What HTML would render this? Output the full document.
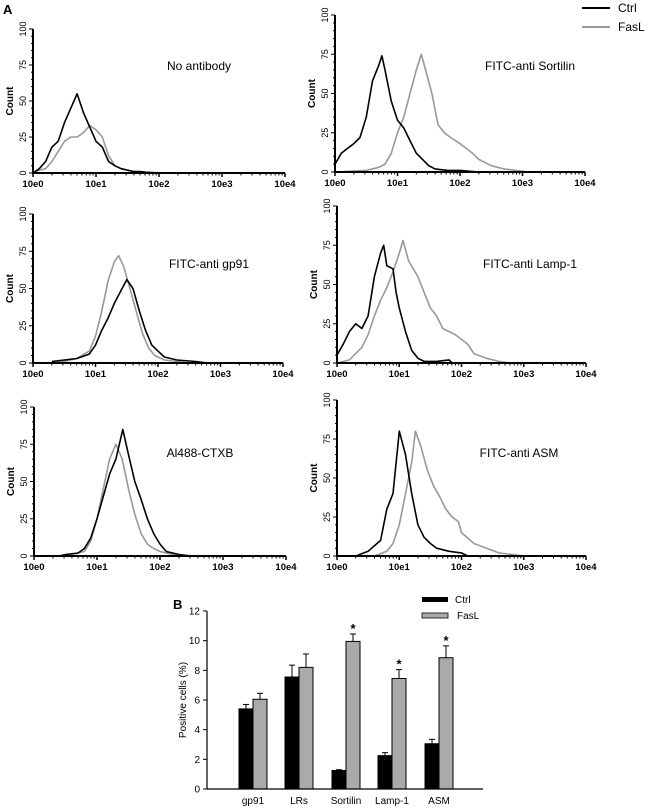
<!DOCTYPE html>
<html><head><meta charset="utf-8"><style>
html,body{margin:0;padding:0;background:#fff;}
svg{display:block;font-family:"Liberation Sans",Arial,sans-serif;}
</style></head><body>
<svg id="fig" width="654" height="809" viewBox="0 0 654 809">
<text x="3" y="14" font-size="13" font-weight="bold">A</text>
<text x="173" y="609" font-size="13" font-weight="bold">B</text>
<g>
<line x1="582" y1="8" x2="610" y2="8" stroke="#000" stroke-width="2"/>
<text x="618" y="12" font-size="12">Ctrl</text>
<line x1="582" y1="27" x2="610" y2="27" stroke="#999" stroke-width="2"/>
<text x="618" y="31" font-size="12">FasL</text>
</g>
</svg>
<script>
const NS="http://www.w3.org/2000/svg";
const svg=document.getElementById('fig');
function mk(tag,attrs,parent){const e=document.createElementNS(NS,tag);for(const k in attrs)e.setAttribute(k,attrs[k]);(parent||svg).appendChild(e);return e;}

// Histogram data: [log10 intensity, count]
const ctrlNoAb=[[0,0],[0.1,3],[0.2,8],[0.3,18],[0.4,22],[0.5,35],[0.6,45],[0.7,55],[0.8,42],[0.9,32],[1.0,22],[1.1,18],[1.2,8],[1.3,5],[1.4,3],[1.5,2],[1.6,1],[1.7,1],[1.8,0.5],[2.0,0]];
const fasNoAb=[[0,0],[0.1,2],[0.2,3],[0.3,8],[0.4,15],[0.5,22],[0.6,25],[0.7,25],[0.8,28],[0.9,33],[1.0,30],[1.1,25],[1.2,12],[1.3,5],[1.4,3],[1.5,2],[1.6,1],[1.8,0.5],[2.2,0]];
const ctrlSort=[[0,5],[0.1,12],[0.2,15],[0.3,18],[0.4,22],[0.5,35],[0.6,58],[0.7,68],[0.75,74],[0.8,65],[0.9,45],[1.0,33],[1.1,28],[1.2,20],[1.3,12],[1.4,8],[1.5,4],[1.6,2],[1.8,1],[2.0,1],[2.3,0]];
const fasSort=[[0,0],[0.5,1],[0.7,3],[0.8,5],[0.9,12],[1.0,25],[1.1,35],[1.2,50],[1.3,65],[1.38,75],[1.45,65],[1.55,50],[1.65,30],[1.75,25],[1.85,22],[2.0,18],[2.1,15],[2.2,12],[2.3,8],[2.5,4],[2.7,2],[2.9,1],[3.1,0]];
const ctrlGp=[[0.3,1],[0.5,2],[0.7,3],[0.9,6],[1.0,12],[1.1,22],[1.2,30],[1.3,40],[1.4,48],[1.5,56],[1.6,50],[1.7,35],[1.8,22],[1.9,12],[2.0,8],[2.1,4],[2.3,2],[2.6,1],[2.8,0]];
const fasGp=[[0.3,0],[0.5,1],[0.7,3],[0.9,8],[1.0,18],[1.1,35],[1.2,55],[1.3,68],[1.37,72],[1.45,65],[1.55,50],[1.65,35],[1.75,20],[1.85,10],[1.95,5],[2.1,2],[2.3,1],[2.5,0]];
const ctrlLamp=[[0,5],[0.1,12],[0.2,20],[0.3,25],[0.4,22],[0.5,30],[0.6,55],[0.7,70],[0.75,75],[0.8,62],[0.9,60],[0.95,45],[1.0,35],[1.1,20],[1.2,8],[1.3,3],[1.4,1],[1.6,1],[1.8,2],[1.85,0]];
const fasLamp=[[0,0],[0.2,2],[0.4,10],[0.5,18],[0.6,30],[0.7,40],[0.8,48],[0.9,58],[1.0,70],[1.06,78],[1.15,65],[1.3,55],[1.4,45],[1.5,35],[1.6,30],[1.7,22],[1.8,20],[1.9,18],[2.0,15],[2.1,12],[2.2,6],[2.4,3],[2.6,1],[2.8,0]];
const ctrlCtx=[[0.4,0],[0.5,1],[0.7,2],[0.8,5],[0.9,12],[1.0,25],[1.1,40],[1.2,55],[1.3,65],[1.41,85],[1.5,68],[1.6,50],[1.7,38],[1.8,25],[1.9,15],[2.0,8],[2.1,3],[2.3,1],[2.5,0]];
const fasCtx=[[0.5,0],[0.8,3],[0.9,10],[1.0,25],[1.1,45],[1.2,65],[1.3,75],[1.4,65],[1.5,45],[1.6,28],[1.7,15],[1.8,8],[1.9,5],[2.0,3],[2.2,1],[2.4,0]];
const ctrlAsm=[[0.3,0],[0.5,3],[0.7,10],[0.8,30],[0.9,40],[1.0,80],[1.1,65],[1.2,40],[1.3,20],[1.4,12],[1.5,8],[1.6,5],[1.8,3],[2.0,2],[2.1,0]];
const fasAsm=[[0.6,0],[0.8,3],[0.9,8],[1.0,20],[1.1,40],[1.2,60],[1.26,80],[1.35,70],[1.45,55],[1.55,45],[1.65,38],[1.75,30],[1.85,25],[1.95,22],[2.0,15],[2.2,8],[2.4,5],[2.6,2],[2.8,1],[3.0,0]];
const xTickLabels=["10e0","10e1","10e2","10e3","10e4"];
const yTickLabels=[0,25,50,75,100];

const panels=[
 {name:'no-antibody',title:'No antibody',x0:33,x1:285,yb:173,yt:29,tx:199,ty:70,ctrl:ctrlNoAb,fas:fasNoAb},
 {name:'sortilin',title:'FITC-anti Sortilin',x0:335,x1:585,yb:172,yt:15,tx:530,ty:70,ctrl:ctrlSort,fas:fasSort},
 {name:'gp91',title:'FITC-anti gp91',x0:33,x1:283,yb:363,yt:214,tx:209,ty:268,ctrl:ctrlGp,fas:fasGp},
 {name:'lamp1',title:'FITC-anti Lamp-1',x0:337,x1:586,yb:363,yt:206,tx:530,ty:268,ctrl:ctrlLamp,fas:fasLamp},
 {name:'ctxb',title:'Al488-CTXB',x0:34,x1:286,yb:556,yt:407,tx:200,ty:457,ctrl:ctrlCtx,fas:fasCtx},
 {name:'asm',title:'FITC-anti ASM',x0:337,x1:586,yb:556,yt:400,tx:519,ty:457,ctrl:ctrlAsm,fas:fasAsm}
];
panels.forEach(p=>{
 const g=mk('g',{});
 
 
 const xs=v=>p.x0+(p.x1-p.x0)*v/4;
 const ys=v=>p.yb-(p.yb-p.yt)*v/100;
 const t=mk('text',{x:p.tx,y:p.ty,'font-size':12,'text-anchor':'middle'},g);t.textContent=p.title;
 
 
 [['fas','#999'],['ctrl','#000']].forEach(([k,c])=>{
  const pts=p[k].map(d=>xs(d[0]).toFixed(1)+','+ys(d[1]).toFixed(1)).join(' ');
  const pl=mk('polyline',{points:pts,fill:'none',stroke:c,'stroke-width':1.6,'stroke-linejoin':'round'},g);
  
  
 });
 mk('line',{x1:p.x0,y1:p.yb,x2:p.x1,y2:p.yb,stroke:'#000','stroke-width':2},g);
 mk('line',{x1:p.x0,y1:p.yb,x2:p.x0,y2:p.yt,stroke:'#000','stroke-width':2},g);
 for(let d=0;d<4;d++){for(let m=2;m<10;m++){const x=xs(d+Math.log10(m));mk('line',{x1:x,y1:p.yb,x2:x,y2:p.yb+2.5,stroke:'#000','stroke-width':1},g);}}
 xTickLabels.forEach((l,i)=>{const x=xs(i);mk('line',{x1:x,y1:p.yb,x2:x,y2:p.yb+4,stroke:'#000','stroke-width':1.5},g);
  const tt=mk('text',{x:x,y:p.yb+14,'font-size':9.5,'font-weight':'bold','text-anchor':'middle'},g);tt.textContent=l;});
 for(let v=0;v<=100;v+=5){const y=ys(v);mk('line',{x1:p.x0-(v%25?2:4),y1:y,x2:p.x0,y2:y,stroke:'#000','stroke-width':1},g);}
 yTickLabels.forEach(v=>{const y=ys(v);const tt=mk('text',{x:0,y:0,'font-size':9,'text-anchor':'middle',transform:`translate(${p.x0-7},${y}) rotate(-90)`},g);tt.textContent=v;});
 const cl=mk('text',{x:0,y:0,'font-size':10,'font-weight':'bold','text-anchor':'middle',transform:`translate(${p.x0-20},${(p.yb+p.yt)/2}) rotate(-90)`},g);cl.textContent='Count';
});

// Bar chart
const barCats=["gp91","LRs","Sortilin","Lamp-1","ASM"];
const ctrlVals=[5.4,7.55,1.25,2.25,3.05];
const ctrlErr=[0.3,0.8,0.05,0.2,0.3];
const fasVals=[6.05,8.2,9.95,7.45,8.85];
const fasErr=[0.4,0.9,0.5,0.6,0.8];
const fasSig=[false,false,true,true,true];
const barTicks=[0,2,4,6,8,10,12];
(function(){
 const g=mk('g',{});
 
 
 const X0=207,X1=483,Y0=789,YT=611;
 const ys=v=>Y0-(Y0-YT)*v/12;
 const centers=[253,299,346,392,439];
 const bw=14;
 barCats.forEach((c,i)=>{
  const cx=centers[i];
  [[ctrlVals,ctrlErr,'#000',cx-bw,'ctrl'],[fasVals,fasErr,'#aaa',cx,'fasl']].forEach(([vals,errs,col,x,nm])=>{
   const v=vals[i],e=errs[i];
   mk('line',{x1:x+bw/2,y1:ys(v),x2:x+bw/2,y2:ys(v+e),stroke:'#000','stroke-width':1},g);
   mk('line',{x1:x+bw/2-3,y1:ys(v+e),x2:x+bw/2+3,y2:ys(v+e),stroke:'#000','stroke-width':1},g);
   const r=mk('rect',{x:x,y:ys(v),width:bw,height:Y0-ys(v),fill:col,stroke:'#000','stroke-width':1},g);
   
   
  });
  if(fasSig[i]){const s=mk('text',{x:cx+bw/2,y:ys(fasVals[i]+fasErr[i])-1,'font-size':13,'font-weight':'bold','text-anchor':'middle'},g);s.textContent='*';}
  const l=mk('text',{x:cx,y:Y0+15,'font-size':10,'text-anchor':'middle'},g);l.textContent=c;
 });
 mk('line',{x1:X0,y1:Y0,x2:X1,y2:Y0,stroke:'#000','stroke-width':1.2},g);
 mk('line',{x1:X0,y1:Y0,x2:X0,y2:YT,stroke:'#000','stroke-width':1.2},g);
 barTicks.forEach(v=>{const y=ys(v);mk('line',{x1:X0-4,y1:y,x2:X0,y2:y,stroke:'#000'},g);
  const t=mk('text',{x:X0-7,y:y+3.5,'font-size':10,'text-anchor':'end'},g);t.textContent=v;});
 const yl=mk('text',{x:0,y:0,'font-size':10,'text-anchor':'middle',transform:`translate(186,${(Y0+YT)/2}) rotate(-90)`},g);yl.textContent='Positive cells (%)';
 const lg=mk('g',{},g);
 
 
 mk('rect',{x:422,y:597,width:26,height:5,fill:'#000'},lg);
 const t1=mk('text',{x:455,y:603,'font-size':10},lg);t1.textContent='Ctrl';
 mk('rect',{x:422,y:613,width:26,height:5,fill:'#aaa',stroke:'#000','stroke-width':0.8},lg);
 const t2=mk('text',{x:457,y:619,'font-size':10},lg);t2.textContent='FasL';
})();
</script>
</body></html>
